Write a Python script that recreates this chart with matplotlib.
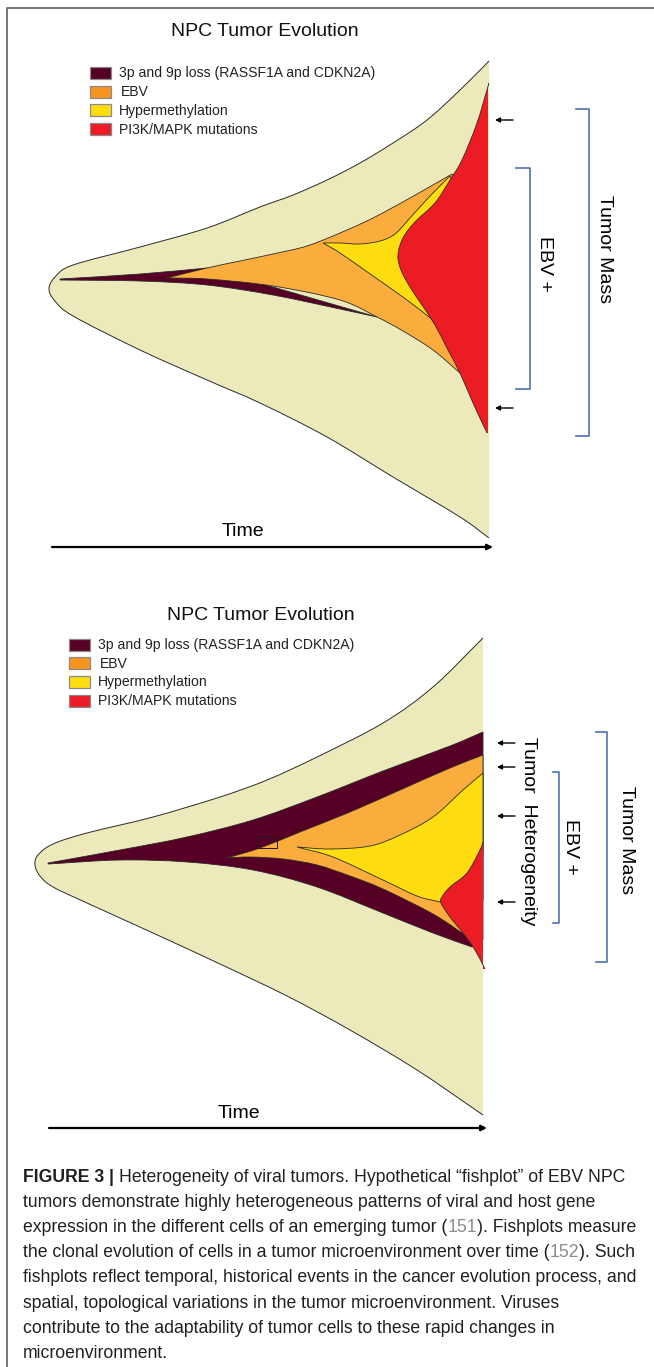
import numpy as np
import matplotlib.pyplot as plt
from matplotlib.path import Path
from matplotlib.patches import PathPatch, Rectangle

plt.rcParams['font.family'] = ['Liberation Sans', 'DejaVu Sans']

# ---- colours ----
BEIGE = '#ECEABB'
MAROON = '#570026'
ORANGE = '#FAAD3D'
YELLOW = '#FEDD10'
RED = '#EC1C24'
LEG_COLORS = ['#570026', '#F7941E', '#FEDD10', '#EC1C24']
BLUE = '#4A72B6'
EDGE = '#2b2b2b'

TITLE = "NPC Tumor Evolution"
LEG_LABELS = ["3p and 9p loss (RASSF1A and CDKN2A)", "EBV",
              "Hypermethylation", "PI3K/MAPK mutations"]

# ---- panel 1 outlines (pixel coords, y down) ----
OUTER1 = [(489, 61), (460, 90), (427, 120), (393, 143), (360, 163), (327, 180),
          (293, 195), (260, 207), (207, 228), (140, 247), (73, 265), (55, 277),
          (49, 289), (55, 301), (73, 316), (140, 350), (207, 380), (260, 403),
          (327, 437), (393, 477), (460, 517), (489, 538)]
M1_UP = [(60, 279), (140, 274), (207, 268)]
M1_LOW = [(377, 317), (340, 309), (273, 295), (207, 285), (140, 281), (60, 280)]
O1_UP = [(167, 278), (207, 268), (240, 261), (273, 254), (307, 246), (340, 233),
         (373, 218), (410, 198), (452, 174)]
O1_LOW = [(167, 278), (207, 279), (273, 286), (340, 300), (377, 317), (403, 331),
          (433, 350), (460, 373)]
Y1_UP = [(323, 243), (340, 243), (360, 244), (380, 241), (395, 234), (410, 218),
         (430, 196), (450, 176)]
Y1_LOW = [(323, 243), (340, 253), (373, 276), (407, 300), (433, 320)]
R1_LEFT = [(489, 83), (477, 123), (462, 160), (450, 180), (435, 203), (415, 222),
           (403, 238), (398, 255), (401, 270), (410, 287), (422, 305), (435, 325),
           (448, 350), (460, 373), (473, 403), (487, 433)]

# ---- panel 2 outlines ----
OUTER2 = [(483, 638), (433, 687), (383, 723), (317, 757), (267, 780), (220, 797),
          (153, 817), (87, 833), (53, 844), (38, 855), (35, 865), (40, 876),
          (53, 887), (87, 903), (153, 933), (220, 964), (287, 996), (350, 1030),
          (417, 1070), (483, 1115)]
M2_UP = [(48, 863), (120, 850), (187, 837), (253, 820), (317, 797), (383, 771),
         (450, 746), (483, 732)]
M2_LOW = [(472, 947), (433, 933), (383, 913), (317, 887), (253, 870), (187, 862),
          (120, 860), (48, 864)]
O2_UP = [(227, 858), (260, 848), (300, 832), (350, 812), (400, 790), (450, 768),
         (483, 755)]
O2_LOW = [(465, 935), (433, 914), (383, 889), (350, 876), (317, 865), (283, 859),
          (250, 857), (227, 858)]
Y2_UP = [(297, 847), (330, 849), (370, 846), (400, 835), (433, 817), (463, 790),
         (483, 773)]
Y2_LOW = [(440, 902), (417, 896), (383, 880), (333, 857), (297, 847)]
R2_LEFT = [(483, 842), (480, 850), (467, 873), (450, 887), (442, 897), (441, 903),
           (450, 917), (463, 933), (475, 950), (485, 969)]

# annotation positions
ARROWS1 = [120, 408]
ARROWS2 = [743, 767, 816, 902]

DARK = '#231F20'
CITE = '#8C8C8C'
CAPTION = [
    [("FIGURE 3 | ", 'bold', DARK),
     ("Heterogeneity of viral tumors. Hypothetical \u201cfishplot\u201d of EBV NPC", 'normal', DARK)],
    [("tumors demonstrate highly heterogeneous patterns of viral and host gene", 'normal', DARK)],
    [("expression in the different cells of an emerging tumor (", 'normal', DARK),
     ("151", 'normal', CITE),
     ("). Fishplots measure", 'normal', DARK)],
    [("the clonal evolution of cells in a tumor microenvironment over time (", 'normal', DARK),
     ("152", 'normal', CITE),
     ("). Such", 'normal', DARK)],
    [("fishplots reflect temporal, historical events in the cancer evolution process, and", 'normal', DARK)],
    [("spatial, topological variations in the tumor microenvironment. Viruses", 'normal', DARK)],
    [("contribute to the adaptability of tumor cells to these rapid changes in", 'normal', DARK)],
    [("microenvironment.", 'normal', DARK)],
]


def smooth(points):
    # catmull-rom through the points, as cubic bezier pieces
    p = np.asarray(points, float)
    ext = np.vstack([2 * p[0] - p[1], p, 2 * p[-1] - p[-2]])
    verts = []
    for i in range(1, len(ext) - 2):
        p0, p1, p2, p3 = ext[i - 1], ext[i], ext[i + 1], ext[i + 2]
        verts += [p1 + (p2 - p0) / 6, p2 - (p3 - p1) / 6, p2]
    return verts


def build(pieces, closed=True):
    verts = [pieces[0][1][0]]
    codes = [Path.MOVETO]
    for kind, pts in pieces:
        if kind == 's':
            v = smooth(pts)
            verts += v
            codes += [Path.CURVE4] * len(v)
        else:
            verts += list(pts[1:])
            codes += [Path.LINETO] * (len(pts) - 1)
    if closed:
        verts.append(verts[0])
        codes.append(Path.CLOSEPOLY)
    return Path(np.asarray(verts, float), codes)


def shape(ax, pieces, color, lw=0.6, edge=EDGE, z=2):
    ax.add_patch(PathPatch(build(pieces), facecolor=color, edgecolor=edge,
                           lw=lw, zorder=z))


fig = plt.figure(figsize=(6.54, 13.67), dpi=100)
ax = fig.add_axes([0, 0, 1, 1])
ax.set_xlim(0, 654)
ax.set_ylim(1367, 0)
ax.axis('off')

# frame
ax.plot([7, 7, 654], [1367, 8, 8], color='#6b6b6b', lw=1.3, zorder=1)

# ---------------- panel 1 ----------------
ax.add_patch(PathPatch(build([('s', OUTER1), ('l', [OUTER1[-1], OUTER1[0]])]),
                       facecolor=BEIGE, edgecolor='none', zorder=2))
ax.add_patch(PathPatch(build([('s', OUTER1)], closed=False), fill=False,
                       edgecolor=EDGE, lw=0.7, zorder=3))
shape(ax, [('s', M1_UP), ('l', [M1_UP[-1], M1_LOW[0]]), ('s', M1_LOW)], MAROON, z=3)
shape(ax, [('s', O1_UP), ('l', [O1_UP[-1], (472, 210), (475, 320), O1_LOW[-1]]),
           ('s', O1_LOW[::-1])], ORANGE, z=4)
shape(ax, [('s', Y1_UP), ('l', [Y1_UP[-1], (475, 230), (470, 290), Y1_LOW[-1]]),
           ('s', Y1_LOW[::-1])], YELLOW, z=5)
ax.add_patch(PathPatch(build([('s', R1_LEFT), ('l', [R1_LEFT[-1], (488, 433), (488, 83), R1_LEFT[0]])]),
                       facecolor=RED, edgecolor='none', zorder=6))
ax.add_patch(PathPatch(build([('s', R1_LEFT)], closed=False), fill=False,
                       edgecolor=EDGE, lw=0.6, zorder=6))

# ---------------- panel 2 ----------------
ax.add_patch(PathPatch(build([('s', OUTER2), ('l', [OUTER2[-1], OUTER2[0]])]),
                       facecolor=BEIGE, edgecolor='none', zorder=2))
ax.add_patch(PathPatch(build([('s', OUTER2)], closed=False), fill=False,
                       edgecolor=EDGE, lw=0.7, zorder=3))
shape(ax, [('s', M2_UP), ('l', [M2_UP[-1], (483, 940), M2_LOW[0]]), ('s', M2_LOW)],
      MAROON, z=3)
shape(ax, [('s', O2_UP), ('l', [O2_UP[-1], (483, 850), O2_LOW[0]]), ('s', O2_LOW)],
      ORANGE, z=4)
shape(ax, [('s', Y2_UP), ('l', [Y2_UP[-1], (483, 900), Y2_LOW[0]]), ('s', Y2_LOW)],
      YELLOW, z=5)
ax.add_patch(PathPatch(build([('s', R2_LEFT), ('l', [R2_LEFT[-1], (483, 969), R2_LEFT[0]])]),
                       facecolor=RED, edgecolor='none', zorder=6))
ax.add_patch(PathPatch(build([('s', R2_LEFT)], closed=False), fill=False,
                       edgecolor=EDGE, lw=0.6, zorder=6))
ax.add_patch(Rectangle((257, 837), 20, 11, fill=False, edgecolor='#1a1a1a',
                       lw=0.7, zorder=7))

# ---------------- titles and legends ----------------
for tx, ty, lx, ly in [(265, 31.5, 90, 73), (261, 616, 69, 644.5)]:
    ax.text(tx, ty, TITLE, fontsize=14, ha='center', va='center', color='#111')
    for i, (lab, c) in enumerate(zip(LEG_LABELS, LEG_COLORS)):
        yy = ly + i * 18.7
        ax.add_patch(Rectangle((lx, yy - 6), 21, 12, facecolor=c,
                               edgecolor='#8a8a8a', lw=0.9, zorder=3))
        ax.text(lx + 29 + (1.5 if lab == "EBV" else 0), yy + 0.5, lab,
                fontsize=10.1, va='center', ha='left', color='#222')


def arrow(y, x0=513, x1=495):
    ax.annotate('', xy=(x1, y), xytext=(x0, y),
                arrowprops=dict(arrowstyle='-|>', lw=1.0, color='black',
                                mutation_scale=7, shrinkA=0, shrinkB=0))


def bracket(x, y0, y1, tick):
    ax.plot([x - tick, x, x, x - tick], [y0, y0, y1, y1], color=BLUE, lw=1.2)


for y in ARROWS1:
    arrow(y)
for y in ARROWS2:
    arrow(y, 515, 497)

bracket(530, 168, 389, 14)
bracket(589, 109, 436, 13)
ax.text(545, 264, "EBV +", rotation=-90, fontsize=14, ha='center', va='center')
ax.text(605, 249, "Tumor Mass", rotation=-90, fontsize=14, ha='center', va='center')

bracket(559, 772, 923, 6)
bracket(607, 732, 962, 11)
ax.text(529, 831, "Tumor  Heterogeneity", rotation=-90, fontsize=14,
        ha='center', va='center')
ax.text(571, 847, "EBV +", rotation=-90, fontsize=14, ha='center', va='center')
ax.text(626, 840, "Tumor Mass", rotation=-90, fontsize=14, ha='center', va='center')

# time axes
for x0, x1, y, ty, tx in [(52, 493, 547, 531, 243), (49, 487, 1128, 1113, 239)]:
    ax.annotate('', xy=(x1, y), xytext=(x0, y),
                arrowprops=dict(arrowstyle='-|>', lw=1.6, color='black',
                                mutation_scale=8, shrinkA=0, shrinkB=0))
    ax.text(tx, ty, "Time", fontsize=14, ha='center', va='center')

# ---------------- caption ----------------
# size the caption so its longest line spans the same width as in the figure
renderer = fig.canvas.get_renderer()
probe = ax.text(0, 0, CAPTION[4][0][0], fontsize=10)
cap_size = 10 * 618 / probe.get_window_extent(renderer).width
probe.remove()

y0 = 1181.5
for i, line in enumerate(CAPTION):
    prev = None
    for s, w, c in line:
        if prev is None:
            prev = ax.text(23, y0 + i * 25.2, s, fontsize=cap_size, fontweight=w,
                           color=c, va='baseline', ha='left')
        else:
            prev = ax.annotate(s, xy=(1, 0), xycoords=prev, fontsize=cap_size,
                               fontweight=w, color=c, va='bottom', ha='left')

fig.savefig('out.png', dpi=100)
